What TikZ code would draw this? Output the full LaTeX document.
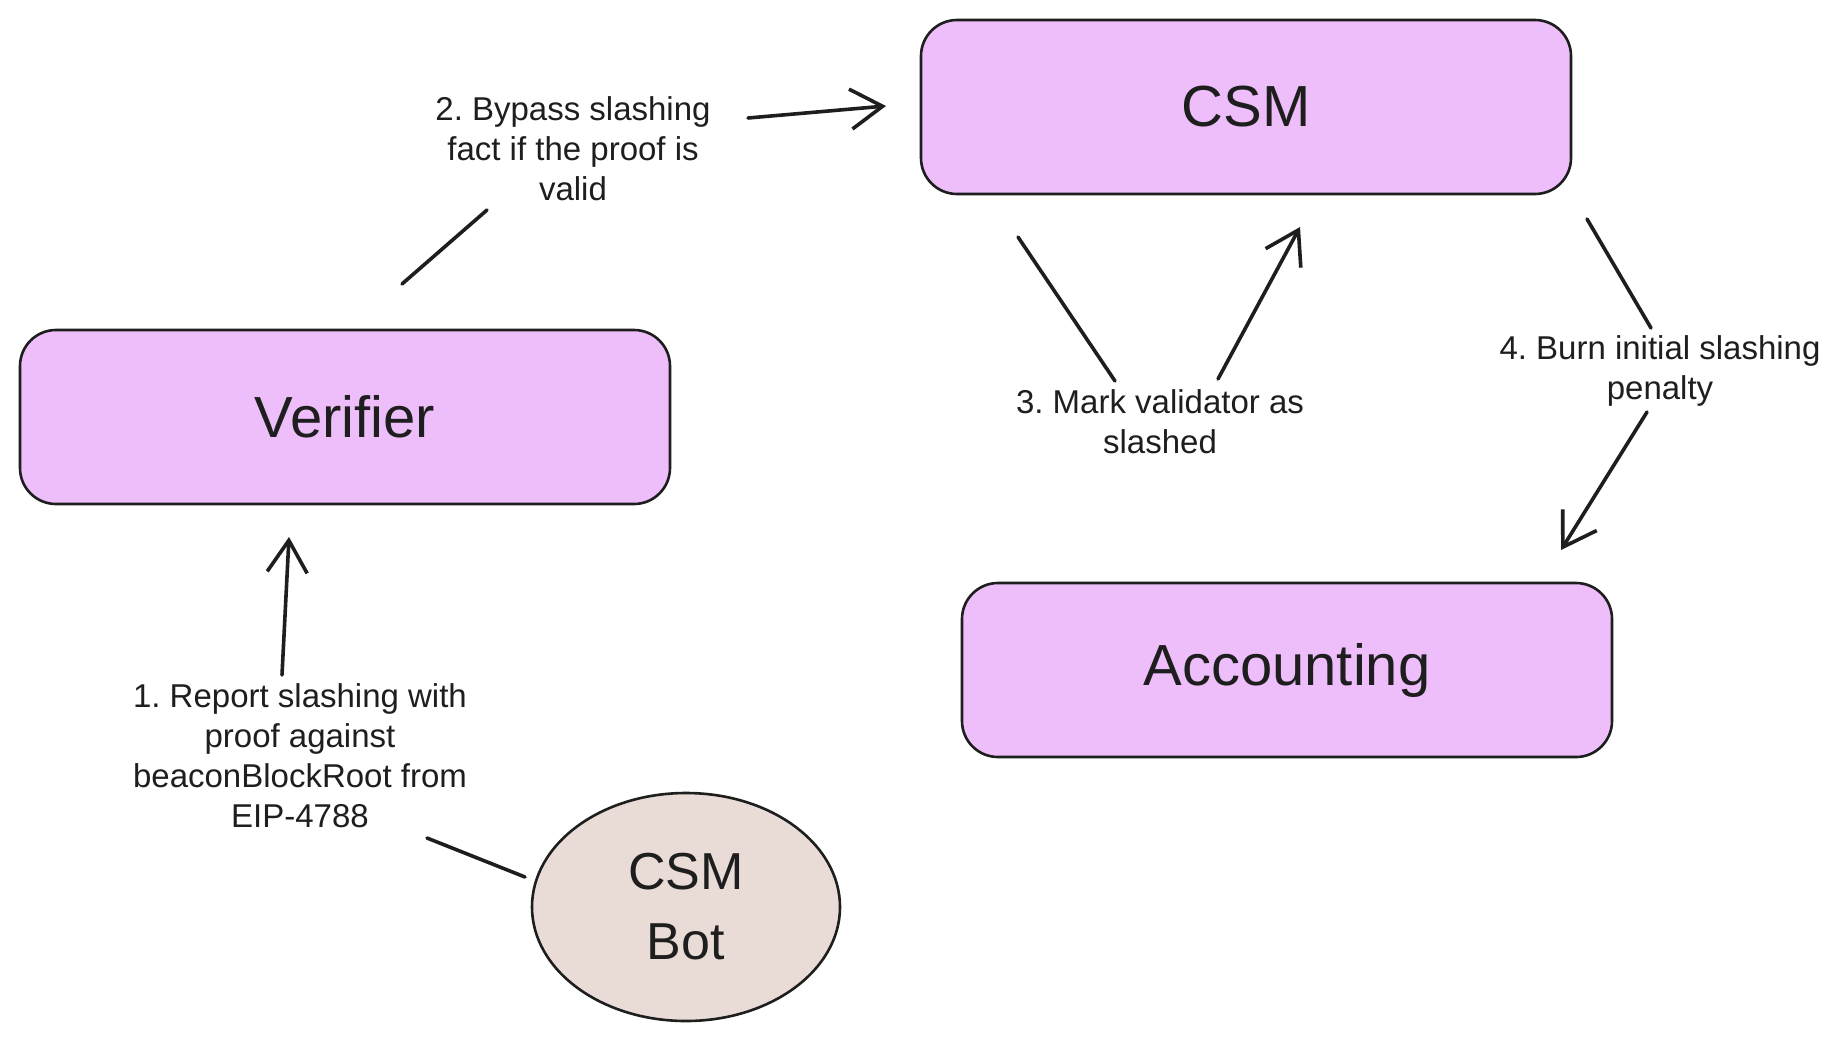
\documentclass[tikz,border=0pt]{standalone}
\usepackage{fontspec}
\setmainfont{Liberation Sans}
\usetikzlibrary{arrows.meta,shapes.geometric}
\definecolor{boxfill}{HTML}{EEBEFA}
\definecolor{botfill}{HTML}{E9DCD7}
\definecolor{ink}{HTML}{1E1E1E}
\frenchspacing
\tikzset{
  box/.style={draw=ink, fill=boxfill, line width=1.3pt, rounded corners=18pt,
    minimum width=325pt, minimum height=87pt, inner sep=0pt,
    font=\fontsize{29}{34}\selectfont, text=ink},
  bot/.style={draw=ink, fill=botfill, line width=1.3pt, ellipse,
    minimum width=154pt, minimum height=114pt, inner sep=0pt, align=center,
    font=\fontsize{26}{35}\selectfont, text=ink},
  lbl/.style={align=center, inner sep=0pt, text=ink,
    font=\fontsize{16.5}{20}\selectfont},
  conn/.style={draw=ink, line width=1.8pt, line cap=round},
  tip/.style={-{Straight Barb[length=16pt,width=20pt,line width=1.8pt]}},
}
\begin{document}
\begin{tikzpicture}[x=0.5pt,y=-0.5pt]
\useasboundingbox[fill=white] (0,0) rectangle (1847,1040);

% boxes
\node[box] (csm) at (1246,107) {CSM};
\node[box] (verifier) at (345,417) {Verifier};
\node[box] (accounting) at (1287,670) {Accounting};
\node[bot] (csmbot) at (686,907) {CSM\\Bot};

% labels
\node[lbl] (l1) at (300,756) {1. Report slashing with\\proof against\\beaconBlockRoot from\\EIP-4788};
\node[lbl] (l2) at (573,149) {2. Bypass slashing\\fact if the proof is\\valid};
\node[lbl] (l3) at (1160,422) {3. Mark validator as\\slashed};
\node[lbl] (l4) at (1660,371) {4. Burn initial slashing\\penalty};

% connector end points
\coordinate (a1s) at (525,877);
\coordinate (a1m) at (427,838);
\coordinate (a1n) at (282,675);
\coordinate (a1e) at (289,537);
\coordinate (a2s) at (402,284);
\coordinate (a2m) at (487,210);
\coordinate (a2n) at (748,118);
\coordinate (a2e) at (886,106);
\coordinate (a3s) at (1018,237);
\coordinate (a3m) at (1115,381);
\coordinate (a3n) at (1218,379);
\coordinate (a3e) at (1300,227);
\coordinate (a4s) at (1587,219);
\coordinate (a4m) at (1651,328);
\coordinate (a4n) at (1647,412);
\coordinate (a4e) at (1561,550);

% connectors
\draw[conn] (a1s) -- (a1m);
\draw[conn,tip] (a1n) -- (a1e);
\draw[conn] (a2s) -- (a2m);
\draw[conn,tip] (a2n) -- (a2e);
\draw[conn] (a3s) -- (a3m);
\draw[conn,tip] (a3n) -- (a3e);
\draw[conn] (a4s) -- (a4m);
\draw[conn,tip] (a4n) -- (a4e);
\end{tikzpicture}
\end{document}
